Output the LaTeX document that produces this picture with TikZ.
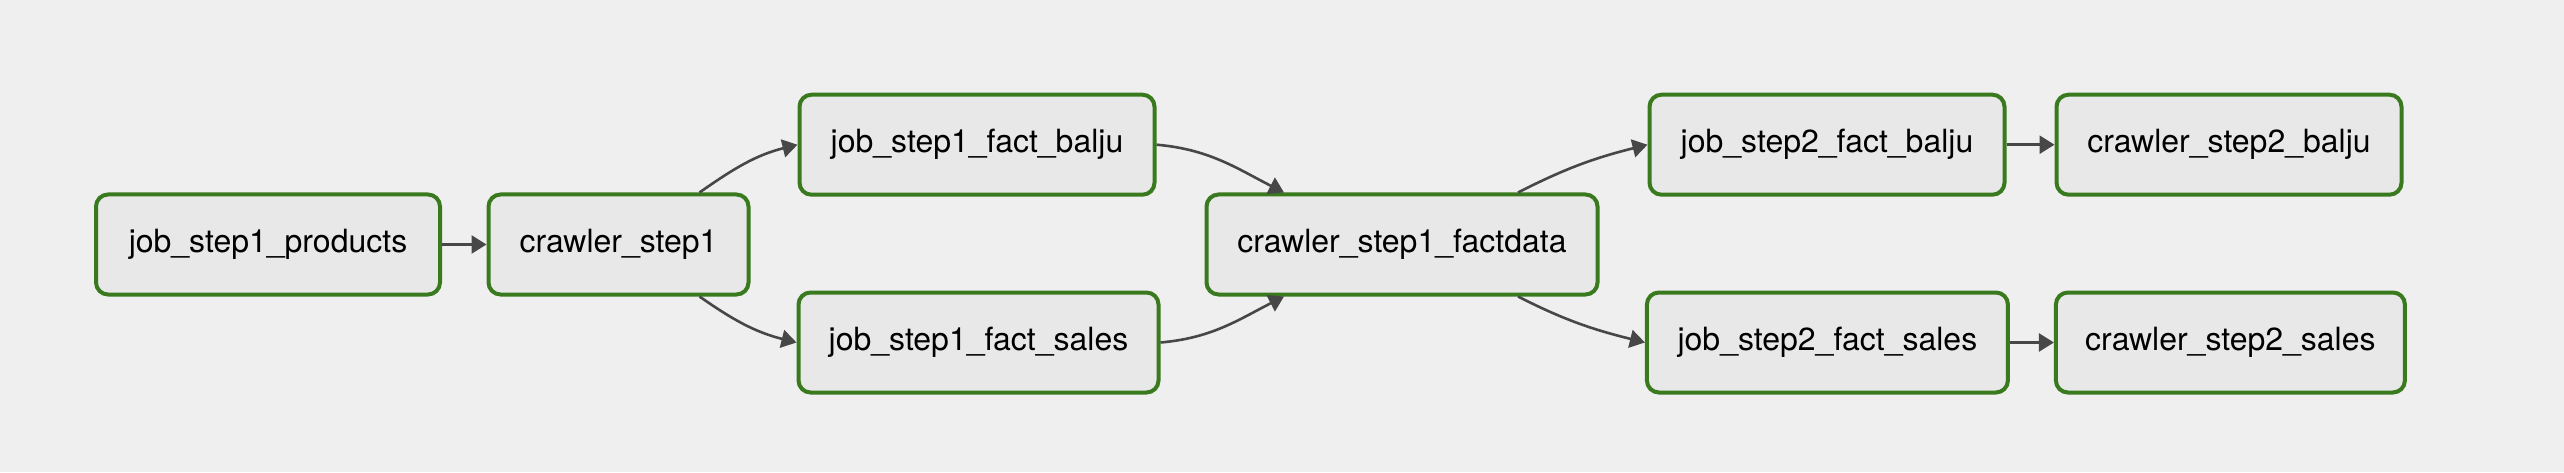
\documentclass[tikz,border=0pt]{standalone}
\usepackage{fontspec}
\setmainfont{TeX Gyre Heros}
\usepackage{xcolor}
\usepackage{tikz}
\usetikzlibrary{positioning,arrows.meta}

\definecolor{dagborder}{HTML}{3A7A1E}
\definecolor{dagfill}{HTML}{E8E8E8}
\definecolor{dagbg}{HTML}{EFEFEF}
\definecolor{dagedge}{HTML}{474747}

\begin{document}
\begin{tikzpicture}[node distance=23pt, font=\fontsize{16pt}{19pt}\selectfont,
  box/.style={draw=dagborder, line width=2pt, rounded corners=6pt, fill=dagfill,
    minimum height=50pt, inner xsep=4pt, align=center},
  arr/.style={-{Triangle[length=7.5pt, width=9pt]}, line width=1.3pt, draw=dagedge, dagedge}]
\fill[dagbg] (0,0) rectangle (1282pt,236pt);
\useasboundingbox (0,0) rectangle (1282pt,236pt);
\node[box, minimum width=172pt] (prod) at (134pt,113.75pt) {job\_step1\_products};
\node[box, minimum width=130pt, right=22.25pt of prod] (crawl1) {crawler\_step1};
\node[box, minimum width=177.5pt, right=23.5pt of crawl1, yshift=49.9pt] (balju1) {job\_step1\_fact\_balju};
\node[box, minimum width=180pt, right=of crawl1, yshift=-49pt] (sales1) {job\_step1\_fact\_sales};
\node[box, minimum width=195.5pt, right=22pt of sales1, yshift=49pt] (fact) {crawler\_step1\_factdata};
\node[box, minimum width=177.5pt, right=24pt of fact, yshift=49.9pt] (balju2) {job\_step2\_fact\_balju};
\node[box, minimum width=180.5pt, right=22.7pt of fact, yshift=-49pt] (sales2) {job\_step2\_fact\_sales};
\node[box, minimum width=172.5pt, right=24pt of balju2] (crawl2b) {crawler\_step2\_balju};
\node[box, minimum width=174.5pt, right=22pt of sales2] (crawl2s) {crawler\_step2\_sales};
\draw[arr] (prod) -- (crawl1);
\draw[arr] ([xshift=40.5pt]crawl1.north) to[out=35, in=194] (balju1.west);
\draw[arr] ([xshift=40.5pt]crawl1.south) to[out=-35, in=166] (sales1.west);
\draw[arr] (balju1.east) to[out=-5, in=153] ([xshift=-59pt]fact.north);
\draw[arr] (sales1.east) to[out=5, in=207] ([xshift=-59pt]fact.south);
\draw[arr] ([xshift=58pt]fact.north) to[out=27, in=194] (balju2.west);
\draw[arr] ([xshift=58pt]fact.south) to[out=-27, in=166] (sales2.west);
\draw[arr] (balju2) -- (crawl2b);
\draw[arr] (sales2) -- (crawl2s);
\end{tikzpicture}
\end{document}
